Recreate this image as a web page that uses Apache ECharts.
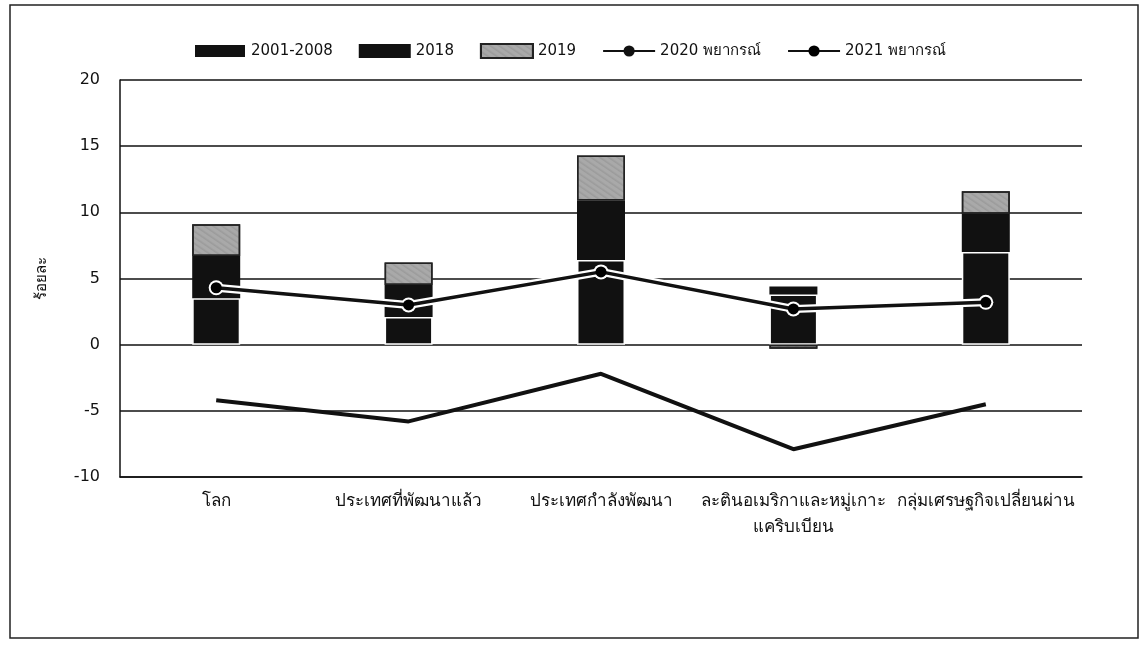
<!DOCTYPE html>
<html>
<head>
<meta charset="utf-8">
<script src="https://cdn.jsdelivr.net/npm/echarts@6/dist/echarts.min.js"></script>
<style>
html,body{margin:0;padding:0;background:#fff;}
#chart{width:1143px;height:653px;}
</style>
</head>
<body>
<div id="chart"></div>
<script>
var categories = ['โลก', 'ประเทศที่พัฒนาแล้ว', 'ประเทศกำลังพัฒนา', 'ละตินอเมริกาและหมู่เกาะ\nแคริบเบียน', 'กลุ่มเศรษฐกิจเปลี่ยนผ่าน'];
var s2001_2008 = [3.5, 2.1, 6.4, 3.8, 7.0];
var s2018 = [3.2, 2.4, 4.5, 0.6, 2.9];
var s2019 = [2.4, 1.7, 3.4, -0.3, 1.7];
var s2020f = [-4.2, -5.8, -2.2, -7.9, -4.5];
var s2021f = [4.3, 3.0, 5.5, 2.7, 3.2];
var yTicks = {min: -10, max: 20, interval: 5};
var yName = 'ร้อยละ';
var seriesNames = ['2001-2008', '2018', '2019', '2020 พยากรณ์', '2021 พยากรณ์'];

var FONT = "'DejaVu Sans', 'Noto Sans', sans-serif";
var chart = echarts.init(document.getElementById('chart'), null, {renderer: 'canvas'});
chart.setOption({
  backgroundColor: '#fff',
  textStyle: {fontFamily: FONT, color: '#111'},
  graphic: [{
    type: 'rect', shape: {x: 10, y: 5, width: 1128, height: 633},
    style: {fill: 'none', stroke: '#222', lineWidth: 1.5}, silent: true
  }],
  legend: {
    top: 38, left: 188, itemWidth: 52, itemHeight: 14, itemGap: 26,
    textStyle: {fontFamily: FONT, fontSize: 15, color: '#111'},
    data: [
      {name: seriesNames[0], icon: 'rect'},
      {name: seriesNames[1], icon: 'rect'},
      {name: seriesNames[2], icon: 'rect'},
      {name: seriesNames[3]},
      {name: seriesNames[4]}
    ]
  },
  grid: {left: 120, right: 61, top: 80, bottom: 176, containLabel: false},
  xAxis: {
    type: 'category', data: categories,
    axisLine: {show: true, lineStyle: {color: '#111', width: 1.5}, onZero: false},
    axisTick: {show: false},
    axisLabel: {interval: 0, fontFamily: FONT, fontSize: 17, color: '#111', margin: 12, lineHeight: 26}
  },
  yAxis: {
    type: 'value', min: yTicks.min, max: yTicks.max, interval: yTicks.interval,
    name: yName, nameLocation: 'middle', nameRotate: 90, nameGap: 70,
    nameTextStyle: {fontFamily: FONT, fontSize: 15, color: '#111'},
    axisLine: {show: true, lineStyle: {color: '#111', width: 1.5}},
    axisTick: {show: false},
    axisLabel: {fontFamily: FONT, fontSize: 16, color: '#111', margin: 20},
    splitLine: {show: true, lineStyle: {color: '#111', width: 1.5}}
  },
  series: [
    {name: seriesNames[0], type: 'bar', stack: 'a', data: s2001_2008, barWidth: 48,
     itemStyle: {color: '#111', borderColor: '#fff', borderWidth: 1.5}},
    {name: seriesNames[1], type: 'bar', stack: 'a', data: s2018, barWidth: 48,
     itemStyle: {color: '#111', borderWidth: 0}},
    {name: seriesNames[2], type: 'bar', stack: 'a', data: s2019, barWidth: 48,
     itemStyle: {color: '#a9a9a9', borderColor: '#222', borderWidth: 1.5,
       decal: {symbol: 'circle', symbolSize: 0.7, color: 'rgba(30,30,30,0.6)', dashArrayX: [1, 0], dashArrayY: [2, 3], rotation: 0.6}}},
    {name: seriesNames[3], type: 'line', data: s2020f, symbol: 'none',
     lineStyle: {color: '#111', width: 4}, itemStyle: {color: '#111'}, z: 5},
    {name: 'halo', type: 'line', data: s2021f, symbol: 'circle', symbolSize: 15,
     lineStyle: {color: '#fff', width: 8}, itemStyle: {color: '#fff', borderWidth: 0},
     z: 5, silent: true, legendHoverLink: false},
    {name: seriesNames[4], type: 'line', data: s2021f, symbol: 'circle', symbolSize: 11,
     lineStyle: {color: '#111', width: 3.5},
     itemStyle: {color: '#000', borderColor: '#000', borderWidth: 0}, z: 6}
  ]
});
</script>
</body>
</html>
